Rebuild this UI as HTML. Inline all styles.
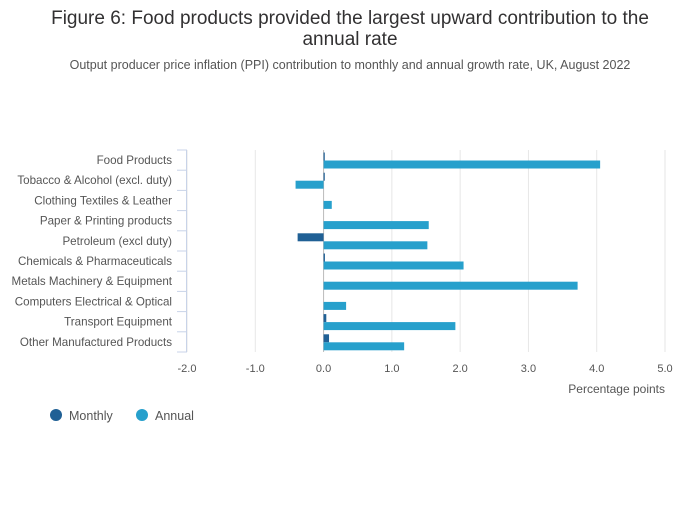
<!DOCTYPE html>
<html><head><meta charset="utf-8"><style>
body{margin:0;background:#fff;font-family:"Liberation Sans",sans-serif;}
svg text{font-family:"Liberation Sans",sans-serif;}
</style></head><body>
<svg width="700" height="502" xmlns="http://www.w3.org/2000/svg">
<text x="350" y="24" text-anchor="middle" font-size="19" fill="#323132">Figure 6: Food products provided the largest upward contribution to the</text>
<text x="350" y="45" text-anchor="middle" font-size="19" fill="#323132">annual rate</text>
<text x="350" y="69" text-anchor="middle" font-size="12.5" fill="#555">Output producer price inflation (PPI) contribution to monthly and annual growth rate, UK, August 2022</text>
<g id="grid"></g><g id="yaxis"></g><g id="bars"></g><g id="xlabels"></g>
<text x="665" y="393" text-anchor="end" font-size="12" fill="#555">Percentage points</text>
<g><circle cx="56" cy="415" r="6" fill="#206095"/><text x="69" y="420" font-size="12.5" fill="#555">Monthly</text></g>
<g><circle cx="142" cy="415" r="6" fill="#27a0cc"/><text x="155" y="420" font-size="12.5" fill="#555">Annual</text></g>
</svg>
<script>
const categories=["Food Products","Tobacco & Alcohol (excl. duty)","Clothing Textiles & Leather","Paper & Printing products","Petroleum (excl duty)","Chemicals & Pharmaceuticals","Metals Machinery & Equipment","Computers Electrical & Optical","Transport Equipment","Other Manufactured Products"];
const monthly=[0.01,0.01,0,0,-0.38,0.02,0,0,0.04,0.08];
const annual=[4.05,-0.41,0.12,1.54,1.52,2.05,3.72,0.33,1.93,1.18];
const ticks=[-2,-1,0,1,2,3,4,5];
const NS="http://www.w3.org/2000/svg";
const x0=187,x1=665,dmin=-2,dmax=5,plotTop=150,band=20.2;
const X=v=>x0+(v-dmin)/(dmax-dmin)*(x1-x0);
function mk(t,a,p){const e=document.createElementNS(NS,t);for(const k in a)e.setAttribute(k,a[k]);p.appendChild(e);return e;}
const g=document.getElementById('grid'),ya=document.getElementById('yaxis'),b=document.getElementById('bars'),xl=document.getElementById('xlabels');
ticks.forEach(t=>{
 const l=mk('line',{x1:X(t),x2:X(t),y1:plotTop,y2:plotTop+band*categories.length,stroke:t===0?'#bbb':'#e6e6e6','stroke-width':1},g);
 
 
 const tx=mk('text',{x:X(t),y:372,'text-anchor':'middle','font-size':11,fill:'#555'},xl);
 tx.textContent=t.toFixed(1);
 
 
});
const ax=mk('line',{x1:186.5,x2:186.5,y1:plotTop,y2:plotTop+band*categories.length,stroke:'#c8d3e8','stroke-width':1},ya);


for(let i=0;i<=categories.length;i++){
 const tk=mk('line',{x1:177,x2:187,y1:plotTop+i*band,y2:plotTop+i*band,stroke:'#c8d3e8','stroke-width':1},ya);
 
 
}
categories.forEach((c,i)=>{
 const y=plotTop+i*band;
 const t=mk('text',{x:172,y:y+14,'text-anchor':'end','font-size':11.6,fill:'#555'},ya);
 t.textContent=c;
 
 
 const m=monthly[i],a=annual[i];
 const r1=mk('rect',{x:Math.min(X(0),X(m)),y:y+2.5,width:Math.max(Math.abs(X(m)-X(0)),m!==0?1.2:0),height:8,fill:'#206095'},b);
 
 
 const r2=mk('rect',{x:Math.min(X(0),X(a)),y:y+10.5,width:Math.abs(X(a)-X(0)),height:8,fill:'#27a0cc'},b);
 
 
});
</script>
</body></html>
